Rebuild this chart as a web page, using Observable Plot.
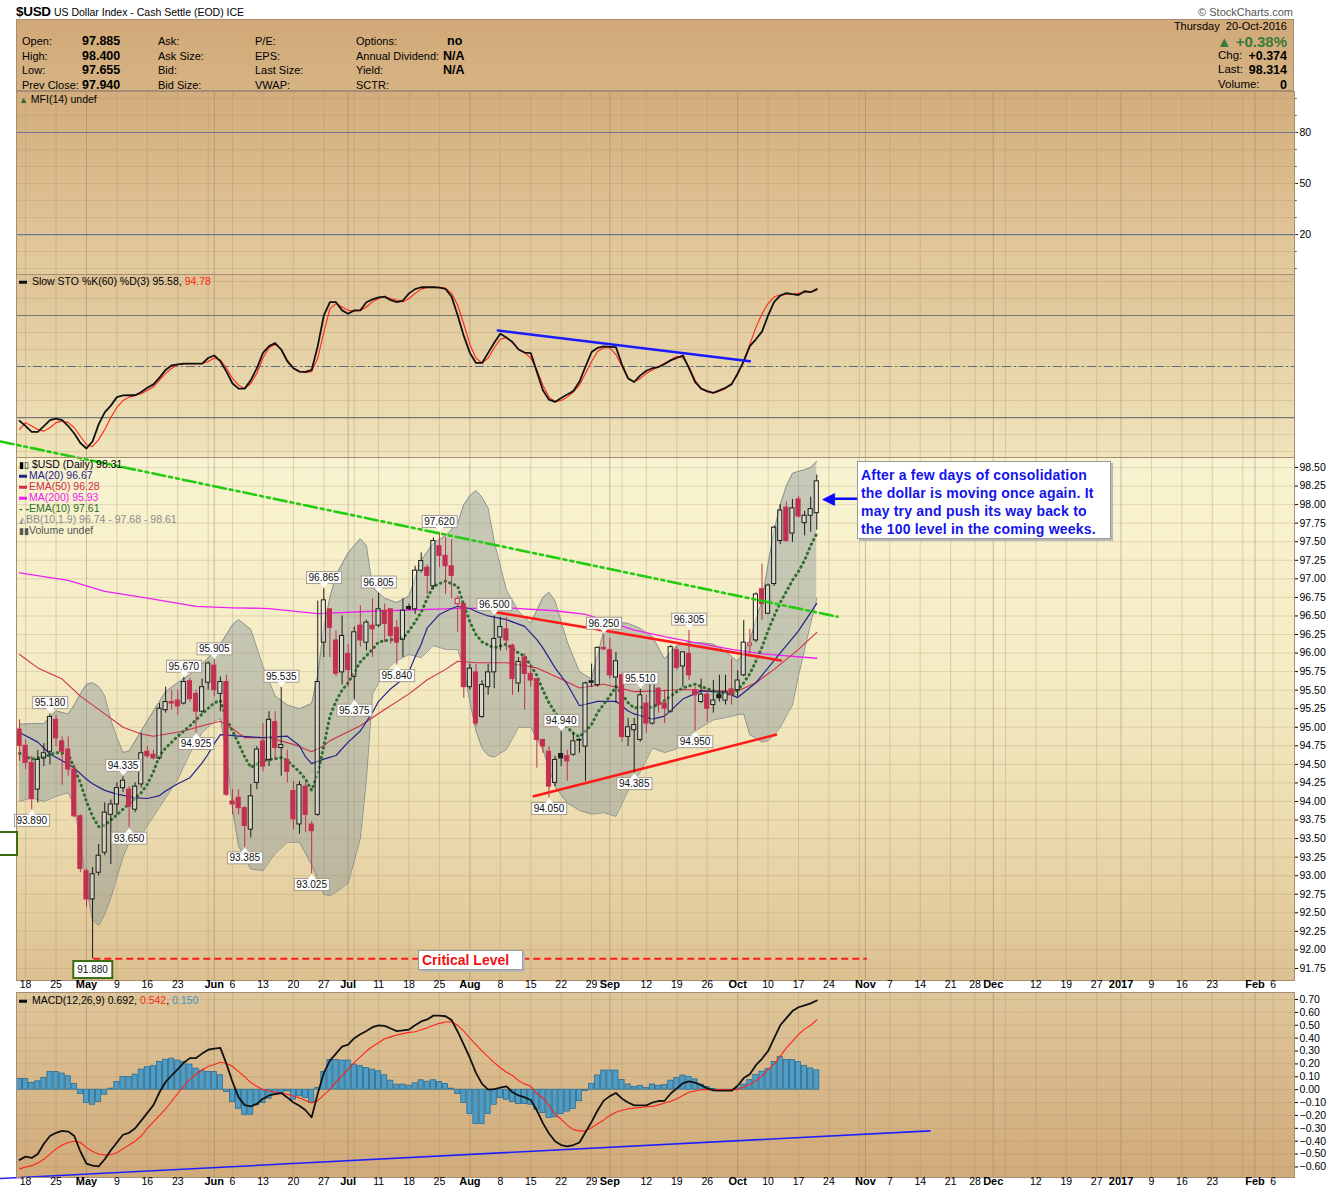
<!DOCTYPE html>
<html><head><meta charset="utf-8">
<script src="https://cdn.jsdelivr.net/npm/d3@7"></script>
<script src="https://cdn.jsdelivr.net/npm/@observablehq/plot@0.6"></script>
<style>
body{margin:0;background:#fff;font-family:"Liberation Sans",Arial,sans-serif;}
#root{position:relative;width:1340px;height:1192px;overflow:hidden;background:#fff;}
.t{position:absolute;white-space:nowrap;line-height:1;transform:translateY(-50%);color:#000;font-size:11px;}
.r{transform:translate(-100%,-50%);}
.bg{position:absolute;box-sizing:border-box;}
</style></head><body><div id="root"></div>
<script>
// ---------------- DATA (trading-day index 0 = 15-Apr-2016, 131 = 20-Oct-2016) ----------------
const open = [94.97,94.75,94.52,94.16,94.58,94.67,95.10,94.81,94.70,94.43, 93.80,93.06,92.68,93.04,93.31,93.82,93.96,94.18,94.16,93.89, 94.23,94.67,94.63,94.58,95.23,95.34,95.36,95.32,95.62,95.45, 95.21,95.60,95.83,95.45,95.61,94.00,94.05,93.91,93.62,94.25, 94.81,94.56,95.07,94.72,94.56,94.14,93.69,94.20,93.69,93.82, 96.14,96.59,96.17,95.74,95.99,95.68,96.37,96.14,96.37,96.37, 96.57,96.59,96.34,96.18,96.62,96.59,97.11,97.15,96.90,97.44, 97.31,97.17,96.66,96.66,95.54,95.74,95.14,95.54,95.74,96.21, 96.32,96.10,95.59,95.94,95.72,95.65,94.83,94.67,94.25,94.64, 94.61,94.63,94.83,94.74,95.62,95.57,96.07,96.04,95.67,95.70, 94.87,94.96,94.83,95.32,95.05,95.52,95.32,95.21,96.04,95.82, 95.99,95.50,95.34,95.44,95.30,95.44,95.36,95.51,95.50,95.70, 96.10,96.17,96.86,96.53,96.93,97.51,97.96,97.61,98.07,97.75, 97.85,97.885];
const high = [95.10,94.83,94.61,94.69,94.78,95.18,95.16,94.87,94.87,94.49, 93.82,93.09,93.11,93.42,93.98,94.02,94.25,94.335,94.20,94.25, 94.92,94.74,94.69,95.32,95.54,95.50,95.50,95.67,95.66,95.50, 95.65,95.88,95.905,95.68,95.70,94.16,94.16,93.93,94.23,94.74, 95.05,95.21,95.21,95.535,94.69,94.27,94.27,94.25,93.73,96.70, 96.865,96.59,96.30,96.50,96.12,96.35,96.64,96.44,96.73,96.805, 96.66,96.59,96.44,96.73,96.66,97.17,97.35,97.19,97.55,97.62, 97.55,97.53,96.77,96.66,95.85,95.85,95.63,95.85,96.50,96.48, 96.48,96.12,95.94,95.99,95.85,95.65,94.83,94.74,94.61,94.94, 94.69,94.92,94.85,95.61,95.85,96.08,96.25,96.20,96.01,95.72, 95.12,95.12,95.51,95.43,95.61,95.54,95.50,96.10,96.08,96.01, 96.305,95.54,95.65,95.50,95.63,95.70,95.70,95.92,95.76,96.44, 96.32,96.81,97.20,96.93,97.71,98.00,98.04,98.07,98.11,97.91, 98.10,98.40];
const low = [94.54,94.43,93.89,93.98,94.47,94.49,94.74,94.22,94.34,93.78, 93.04,92.57,91.88,93.00,93.27,93.15,93.82,94.12,93.65,93.85, 94.18,94.58,94.56,94.56,95.19,95.23,95.16,95.30,95.34,94.925, 95.19,95.50,95.41,95.21,94.07,93.82,93.82,93.385,93.51,94.16, 94.40,94.47,94.56,94.34,94.25,93.62,93.56,93.58,93.025,93.80, 95.94,95.94,95.68,95.57,95.54,95.375,96.08,96.03,95.94,96.34, 96.14,96.12,95.84,95.94,96.57,96.52,97.08,96.79,96.86,97.15, 96.79,96.73,96.28,95.39,95.50,95.01,95.12,95.43,95.52,96.03, 96.03,95.43,95.47,95.23,95.54,94.45,94.65,94.05,94.20,94.47, 94.27,94.61,94.65,94.27,95.54,95.54,96.03,95.65,95.32,94.80, 94.74,94.385,94.80,94.92,95.03,95.19,95.05,95.19,95.77,95.54, 95.63,94.95,95.32,95.07,95.19,95.34,95.30,95.30,95.41,95.68, 95.99,96.14,96.44,96.52,96.90,97.46,97.49,97.49,97.82,97.58, 97.63,97.655];
const close = [94.75,94.52,94.03,94.56,94.65,95.14,94.85,94.67,94.43,93.80, 93.09,92.68,93.02,93.27,93.85,93.96,94.18,94.28,93.93,94.20, 94.65,94.61,94.58,95.25,95.34,95.32,95.28,95.61,95.38,95.21, 95.54,95.86,95.50,95.61,94.09,93.96,93.91,93.67,94.07,94.70, 94.47,95.10,94.72,94.76,94.40,93.76,94.22,93.82,93.60,95.61, 96.71,96.34,95.72,96.23,95.77,96.28,96.17,96.41,96.32,96.59, 96.39,96.23,96.14,96.57,96.59,97.11,97.24,97.04,97.51,97.31, 97.17,97.04,96.73,95.54,95.79,95.05,95.57,95.74,96.19,96.35, 96.17,95.65,95.88,95.72,95.63,94.83,94.74,94.20,94.56,94.58, 94.54,94.81,94.82,95.59,95.60,96.07,96.05,95.70,95.89,94.87, 95.00,95.03,95.43,95.05,95.59,95.30,95.25,96.08,95.80,96.01, 95.70,95.43,95.44,95.25,95.36,95.39,95.47,95.44,95.63,96.14, 96.13,96.79,96.66,96.91,97.69,97.92,97.51,97.95,97.84,97.85, 97.94,98.314];
const closeBeforeStart = 95.05;

// Bollinger Bands (10,1.9), read at sampled days
const bbDay = [0,2,4,6,8,9,10,11,12,13,14,15,16,17,18,20,22,24,26,28,30,32,33,34,35,36,38,40,42,44,46,48,49,50,51,52,54,56,57,58,60,62,64,66,68,70,72,73,74,75,76,77,78,80,82,84,86,87,88,90,92,94,96,98,100,102,104,106,108,110,112,114,116,118,119,120,121,122,123,124,125,126,127,128,129,130,131];
const bbUpper = [95.04,95.05,95.05,95.22,95.18,95.30,95.45,95.58,95.60,95.55,95.42,95.10,94.86,94.66,94.68,94.95,95.22,95.48,95.60,95.71,95.85,96.02,96.12,96.25,96.38,96.45,96.32,95.82,95.42,95.30,95.25,95.32,95.70,96.35,96.75,97.05,97.35,97.54,97.45,96.88,96.74,96.68,96.77,97.25,97.48,97.58,97.75,98.00,98.12,98.19,98.10,97.95,97.50,96.85,96.56,96.40,96.75,96.82,96.70,96.15,95.75,95.65,96.30,96.42,96.40,96.33,96.22,95.92,96.10,96.14,96.14,96.12,96.02,95.89,96.00,96.16,96.45,96.70,97.20,97.65,98.00,98.25,98.42,98.45,98.47,98.50,98.58];
const bbLower = [94.00,94.05,94.00,94.07,94.12,93.95,93.45,92.85,92.40,92.33,92.48,92.70,92.98,93.25,93.45,93.55,93.80,94.05,94.30,94.65,94.93,95.08,95.12,94.65,93.90,93.40,93.09,93.07,93.30,93.45,93.45,93.15,92.95,92.75,92.73,92.78,92.90,93.50,94.30,95.45,95.76,95.90,95.98,95.94,96.10,96.05,96.05,95.80,95.35,94.95,94.72,94.62,94.60,94.70,95.00,95.00,94.70,94.45,94.20,93.98,93.88,93.83,93.85,93.80,94.15,94.40,94.72,94.66,94.71,94.90,95.00,95.10,95.13,95.17,95.18,94.90,94.85,94.80,94.82,94.90,95.00,95.15,95.30,95.70,96.05,96.40,96.74];

// Moving averages, read at sampled days
const ma20Day = [0,3,5,7,9,11,12,14,16,19,21,23,24,26,28,30,31,32,33,36,38,40,42,44,46,47,48,50,52,54,56,58,59,61,63,64,65,66,67,68,69,71,72,74,75,77,80,83,85,86,88,90,92,95,98,100,101,104,106,109,112,116,118,121,124,126,128,131];
const ma20 = [94.93,94.80,94.64,94.55,94.45,94.30,94.24,94.15,94.10,94.05,94.04,94.08,94.14,94.24,94.32,94.52,94.64,94.78,94.90,94.88,94.87,94.86,94.87,94.88,94.75,94.60,94.51,94.57,94.62,94.80,94.95,95.20,95.35,95.52,95.65,95.75,95.95,96.12,96.34,96.43,96.52,96.60,96.63,96.60,96.56,96.50,96.45,96.36,96.18,96.07,95.80,95.58,95.29,95.35,95.35,95.22,95.18,95.11,95.15,95.38,95.49,95.47,95.40,95.60,95.90,96.10,96.30,96.67];
const ema50Day = [0,3,7,10,14,17,20,22,25,27,30,33,35,37,41,45,48,50,51,56,60,64,67,70,72,75,80,85,89,92,96,101,105,109,114,118,121,124,128,131];
const ema50 = [95.98,95.80,95.65,95.42,95.18,95.00,94.91,94.88,94.92,94.95,95.02,95.08,94.98,94.86,94.86,94.77,94.67,94.75,94.82,95.02,95.24,95.45,95.64,95.78,95.89,95.87,95.87,95.80,95.65,95.53,95.58,95.48,95.49,95.51,95.49,95.49,95.60,95.78,96.05,96.28];
const ma200Day = [0,8,14,21,29,35,41,49,57,64,71,80,88,93,97,101,106,111,117,122,131];
const ma200 = [97.08,96.98,96.83,96.74,96.63,96.61,96.60,96.53,96.56,96.58,96.60,96.61,96.57,96.52,96.42,96.31,96.22,96.14,96.05,95.99,95.93];
const ema10Day = [0,2,4,6,8,9,10,11,12,13,14,15,16,18,20,21,22,23,24,26,28,30,32,33,34,35,36,37,38,40,43,44,46,47,48,49,50,51,52,53,54,56,58,59,61,63,64,65,66,67,68,70,72,73,74,75,76,78,80,82,83,85,86,87,88,90,91,92,93,94,95,97,98,99,100,101,102,104,106,108,109,111,112,114,117,118,119,120,121,122,123,124,125,126,127,128,129,130,131];
const ema10 = [94.65,94.57,94.60,94.66,94.64,94.45,94.25,94.00,93.80,93.66,93.68,93.75,93.82,93.97,94.12,94.23,94.40,94.62,94.72,94.88,95.02,95.18,95.33,95.36,95.12,94.95,94.78,94.60,94.46,94.55,94.59,94.55,94.40,94.30,94.15,94.38,94.75,95.15,95.35,95.50,95.60,95.88,96.05,96.15,96.18,96.20,96.30,96.42,96.55,96.74,96.90,96.97,96.90,96.65,96.42,96.25,96.15,96.07,96.12,96.00,95.96,95.70,95.50,95.33,95.20,95.00,94.92,94.87,94.95,95.04,95.20,95.42,95.55,95.45,95.33,95.26,95.27,95.27,95.36,95.48,95.53,95.58,95.55,95.49,95.44,95.50,95.60,95.72,95.89,96.08,96.30,96.50,96.68,96.83,96.98,97.10,97.25,97.45,97.61];

// Slow stochastic %K(60) %D(3)
const stoK = [18,15,11.6,11.6,15,18.5,19.4,18.5,15,10.6, 5,1.8,6,16,23,27,32,33,33.1,33.1, 35,37.5,39.5,43.5,48,50.7,51.2,51.7,51.7,51.7, 51.7,55,56.5,53,47,40,37,37,42,49, 58,62,63.8,60,53,49,47,46.8,48,62, 80,87.8,87.8,83,81,83,83,87.8,89.5,90.7, 91.1,89,87.8,88.8,93,95.5,96.6,96.6,96.6,96.4, 95.6,91,80,68,58,52.1,52.1,58,64,69.3, 67,64.4,60,58.2,57.9,47,36,30.5,29.2,31.5, 33.5,35.6,41,50,58.5,61,61.8,61.6,61.4,51, 43,40.9,44.8,47.5,49,49.7,51.5,53.6,55,56.5, 49,41,37,35.5,34.5,36,37.5,39.5,46,53, 62,66,70.5,80,88,91.7,93.1,92.5,92,94.3, 93.7,95.58];
const stoD = [13,17,15,13,12,14,17,18,17,14, 9,4,3,7,13,20,26,30,32,33, 34,36,38,42,46,49,51,51.5,51.7,51.7, 51.7,53,55,54,49,43,39,37,40,46, 55,61,63,60,54,49,47,46.5,47,55, 70,84,87,85,83,82.5,83,85,88,90, 91,90,89,88,90,93,95.5,96.6,96.6,96.6, 96,93,86,75,63,55,52,55,61,66, 67,64,60,58,55,48,39,32,29.5,30, 32,35,39,46,53,59,61,61,57,50, 43,41,43,46,48,50,52,54,56,55, 50,42,37,35,34.5,35.5,37,40,45,54, 63,73,81,87,91,92,92.5,92.5,93,93.5, 94,94.78];

// MACD(12,26,9)
const macd = [-0.545,-0.52,-0.53,-0.50,-0.42,-0.36,-0.335,-0.32,-0.325,-0.36, -0.48,-0.575,-0.59,-0.595,-0.54,-0.47,-0.41,-0.35,-0.335,-0.30, -0.24,-0.18,-0.12,-0.02,0.06,0.11,0.16,0.21,0.245,0.246, 0.28,0.31,0.318,0.324,0.20,0.06,-0.06,-0.12,-0.13,-0.11, -0.07,-0.045,-0.035,-0.026,-0.06,-0.10,-0.125,-0.16,-0.215,-0.03, 0.13,0.225,0.28,0.335,0.35,0.40,0.43,0.455,0.485,0.50, 0.495,0.475,0.455,0.46,0.467,0.50,0.53,0.545,0.575,0.575, 0.57,0.54,0.45,0.35,0.246,0.13,0.045,0.0,0.005,0.015, 0.026,-0.02,-0.045,-0.06,-0.08,-0.16,-0.26,-0.34,-0.40,-0.43, -0.441,-0.43,-0.41,-0.33,-0.25,-0.16,-0.085,-0.05,-0.026,-0.07, -0.10,-0.122,-0.122,-0.122,-0.10,-0.088,-0.086,-0.03,0.01,0.05, 0.065,0.055,0.035,0.01,-0.005,-0.008,-0.008,-0.008,0.03,0.09, 0.12,0.19,0.24,0.30,0.40,0.50,0.555,0.61,0.64,0.655, 0.67,0.692];
const signal = [-0.615,-0.60,-0.59,-0.57,-0.54,-0.50,-0.46,-0.43,-0.41,-0.40, -0.41,-0.45,-0.48,-0.50,-0.506,-0.505,-0.49,-0.46,-0.43,-0.40, -0.36,-0.30,-0.25,-0.20,-0.15,-0.09,-0.03,0.03,0.08,0.12, 0.155,0.18,0.195,0.213,0.205,0.18,0.14,0.10,0.055,0.026, 0.0,-0.01,-0.02,-0.026,-0.035,-0.05,-0.065,-0.085,-0.104,-0.085, -0.04,0.0,0.06,0.11,0.16,0.21,0.255,0.30,0.335,0.365, 0.395,0.41,0.425,0.435,0.445,0.45,0.465,0.48,0.50,0.515, 0.525,0.527,0.50,0.455,0.40,0.35,0.30,0.255,0.21,0.17, 0.135,0.11,0.07,0.045,0.026,-0.03,-0.065,-0.12,-0.19,-0.23, -0.275,-0.31,-0.32,-0.32,-0.295,-0.265,-0.235,-0.20,-0.175,-0.16, -0.148,-0.143,-0.138,-0.133,-0.13,-0.118,-0.104,-0.09,-0.07,-0.045, -0.02,-0.01,0.0,0.0,0.0,0.0,0.0,0.0,0.0,0.02, 0.04,0.07,0.105,0.155,0.20,0.26,0.325,0.375,0.43,0.47, 0.50,0.542];
const hist = [0.083,0.083,0.052,0.065,0.091,0.137,0.137,0.125,0.104,0.044, -0.034,-0.104,-0.117,-0.096,-0.039,0.008,0.060,0.099,0.099,0.117, 0.156,0.174,0.182,0.215,0.233,0.241,0.226,0.215,0.195,0.163, 0.148,0.137,0.137,0.112,-0.018,-0.096,-0.148,-0.195,-0.195,-0.122, -0.104,-0.070,-0.039,-0.026,-0.013,-0.078,-0.052,-0.065,-0.104,0.013, 0.137,0.231,0.231,0.226,0.226,0.195,0.182,0.169,0.156,0.143, 0.112,0.070,0.039,0.039,0.031,0.049,0.073,0.062,0.073,0.060, 0.044,0.008,-0.034,-0.104,-0.189,-0.267,-0.267,-0.189,-0.117,-0.065, -0.078,-0.096,-0.112,-0.112,-0.117,-0.156,-0.182,-0.220,-0.215,-0.19, -0.17,-0.15,-0.09,-0.01,0.045,0.11,0.148,0.148,0.148,0.075, 0.04,0.02,0.03,0.013,0.04,0.03,0.035,0.07,0.09,0.11, 0.10,0.08,0.04,0.02,0.005,-0.005,-0.008,-0.005,0.01,0.04, 0.075,0.115,0.14,0.16,0.215,0.255,0.23,0.23,0.215,0.185, 0.165,0.15];

// Swing high / low labels
const labelDay = [5,2,12,17,18,27,29,32,37,43,48,50,55,59,62,69,78,87,89,96,101,102,110,111];
const labelValue = [95.180,93.890,91.880,94.335,93.650,95.670,94.925,95.905,93.385,95.535,93.025,96.865,95.375,96.805,95.840,97.620,96.500,94.050,94.940,96.250,94.385,95.510,96.305,94.950];
const labelKind = ["H","L","L","H","L","H","L","H","L","H","L","H","L","H","L","H","H","L","H","H","L","H","H","L"];

// Annotations (day index, value)
const greenTrend = [[-3.1, 98.85], [134.4, 96.49]];
const redUpperTrend = [[78.3, 96.55], [125.1, 95.90]];
const redLowerTrend = [[84.5, 94.07], [124.3, 94.90]];
const criticalLevel = 91.88;
const criticalSpan = [12.2, 139.3];
const stoTrend = [[78.6, 71.2], [120.0, 53.1]];
const macdTrend = [[-3.1, -0.69], [149.6, -0.32]];
const arrowSpan = [[137.6, 98.08], [133.4, 98.08]];

// Axis ticks
const tickDay = [1,6,11,16,21,26,32,35,40,45,50,54,59,64,69,74,79,84,89,94,97,103,108,113,118,123,128,133,139,143,148,153,157,160,167,172,177,181,186,191,196,203,206];
const tickText = ["18","25","May","9","16","23","Jun","6","13","20","27","Jul","11","18","25","Aug","8","15","22","29","Sep","12","19","26","Oct","10","17","24","Nov","7","14","21","28","Dec","12","19","27","2017","9","16","23","Feb","6"];
const weekDay = [1,6,16,21,26,31,35,40,45,50,55,59,64,69,79,84,89,94,99,103,108,113,123,128,133,138,143,148,153,157,162,167,172,177,186,191,196,201,206];
const monthDay = [11,32,54,74,97,118,139,160,181,203];
const priceTicks = d3.range(0, 28).map(k => 91.75 + k * 0.25);
const macdTicks = d3.range(-6, 8).map(k => k / 10);

// ---------------- RENDERING ----------------
const root = document.getElementById("root");
const W = 1340, ML = 16, MR = 46, XD = [-0.5, 209.5];
const RED = "#c3304f", BLK = "#1c1c1c";
const FONT = "Liberation Sans, Arial, sans-serif";

function bgDiv(top, h, grad) {
  const d = document.createElement("div");
  d.className = "bg";
  Object.assign(d.style, {left: ML + "px", top: top + "px", width: (W - ML - MR) + "px", height: h + "px", background: grad});
  root.appendChild(d);
}
function txt(x, y, html, css, right) {
  const d = document.createElement("div");
  d.className = "t" + (right ? " r" : "");
  d.style.left = x + "px"; d.style.top = y + "px";
  d.innerHTML = html;
  Object.assign(d.style, css || {});
  root.appendChild(d);
  return d;
}
function gridMarks(hVals) {
  const m = [
    Plot.ruleX(weekDay, {stroke: "#a88d66", strokeOpacity: 0.32}),
    Plot.ruleX(monthDay, {stroke: "#8c755c", strokeOpacity: 0.42})
  ];
  if (hVals) m.push(Plot.ruleY(hVals, {stroke: "#a88d66", strokeOpacity: 0.26}));
  return m;
}
function dateLabels() {
  const td = tickDay.map((d, k) => ({d, t: tickText[k], m: isNaN(+tickText[k]) || tickText[k] === "2017"}));
  return [
    Plot.text(td.filter(o => !o.m), {x: "d", text: "t", frameAnchor: "bottom", dy: 7, fontSize: 10.5, fill: "#000", fontFamily: FONT}),
    Plot.text(td.filter(o => o.m), {x: "d", text: "t", frameAnchor: "bottom", dy: 7, fontSize: 11, fontWeight: "bold", fill: "#000", fontFamily: FONT})
  ];
}
function panel(top, h, mb, yopt, marks) {
  const svg = Plot.plot({
    width: W, height: h + mb, marginLeft: ML, marginRight: MR, marginTop: 0, marginBottom: mb,
    x: {domain: XD, axis: null},
    y: yopt,
    style: {background: "transparent", fontFamily: FONT, fontSize: "10.5px", color: "#000"},
    marks
  });
  svg.style.position = "absolute"; svg.style.left = "0px"; svg.style.top = top + "px";
  svg.style.overflow = "visible"; svg.style.maxWidth = "none";
  root.appendChild(svg);
  return svg;
}

// Backgrounds
const hdr = document.createElement("div");
hdr.className = "bg";
Object.assign(hdr.style, {left: "16px", top: "19px", width: "1278px", height: "72px", background: "linear-gradient(#d2a978,#d6b383)", border: "1px solid #a58d76"});
root.appendChild(hdr);
bgDiv(91, 183, "linear-gradient(#d3ad7c,#e3cb9e)");
bgDiv(274, 183, "linear-gradient(#dec396,#f0e4bb)");
bgDiv(457, 523, "linear-gradient(#f8f3d0 0%,#f4ecc4 40%,#ecdcaf 70%,#dcc090 100%)");
bgDiv(992, 185, "linear-gradient(#dec69a,#d1aa7a)");

const minorTicks = (vals) => Plot.ruleY(vals, {x1: XD[1], x2: XD[1] + 0.45, stroke: "#555"});

// MFI panel (empty: MFI(14) undef)
panel(91, 183, 0, {domain: [-3.5, 104.1], axis: "right", ticks: [20, 50, 80], tickFormat: d3.format("d"), tickSize: 3, tickPadding: 2, label: null}, [
  ...gridMarks(d3.range(0, 101, 10)),
  Plot.ruleY([20, 80], {stroke: "#6b7894", strokeWidth: 1.2}),
  minorTicks(d3.range(0, 101, 10)),
  Plot.frame({stroke: "#a58d76"})
]);

// STO panel
const stoData = stoK.map((k, i) => ({i, k, d: stoD[i]}));
panel(274, 183, 0, {domain: [-3.5, 104.1], axis: null}, [
  ...gridMarks(d3.range(0, 101, 10)),
  Plot.ruleY([20, 80], {stroke: "#777", strokeWidth: 1.2}),
  Plot.ruleY([50], {stroke: "#5a6c86", strokeWidth: 1.2, strokeDasharray: "9,3,2,3"}),
  Plot.line(stoData, {x: "i", y: "d", stroke: "#ff2418", strokeWidth: 1.1}),
  Plot.line(stoData, {x: "i", y: "k", stroke: "#111", strokeWidth: 1.8}),
  Plot.line(stoTrend, {x: d => d[0], y: d => d[1], stroke: "#1a1aff", strokeWidth: 2.6}),
  Plot.frame({stroke: "#a58d76"})
]);

// Price panel
const candles = close.map((c, i) => {
  const o = open[i], prev = i ? close[i - 1] : closeBeforeStart;
  const red = c < prev, filled = c < o;
  const col = red ? RED : BLK;
  return {i, o, h: high[i], l: low[i], c, top: Math.max(o, c), bot: Math.min(o, c), col, fill: filled ? col : "rgba(255,255,255,0.35)"};
});
const bb = bbDay.map((d, k) => ({d, up: bbUpper[k], lo: bbLower[k]}));
const lab = labelDay.map((d, k) => ({d, v: labelValue[k], k: labelKind[k], t: labelValue[k].toFixed(3)}));
const xy = {x: d => d[0], y: d => d[1]};
const pair = (days, vals) => days.map((d, k) => [d, vals[k]]);

const priceSvg = panel(457, 523, 14, {domain: [91.588, 98.635], axis: "right", ticks: priceTicks, tickFormat: d3.format(".2f"), tickSize: 3, tickPadding: 2, label: null}, [
  ...gridMarks(priceTicks),
  Plot.areaY(bb, {x: "d", y1: "lo", y2: "up", fill: "#7d8c93", fillOpacity: 0.4}),
  Plot.line(bb, {x: "d", y: "up", stroke: "#8b9290", strokeWidth: 1}),
  Plot.line(bb, {x: "d", y: "lo", stroke: "#8b9290", strokeWidth: 1}),
  Plot.line(pair(ma200Day, ma200), {...xy, stroke: "#f020f0", strokeWidth: 1.3}),
  Plot.line(pair(ema50Day, ema50), {...xy, stroke: "#d0304a", strokeWidth: 1.1}),
  Plot.line(pair(ma20Day, ma20), {...xy, stroke: "#23238c", strokeWidth: 1.2}),
  Plot.line(pair(ema10Day, ema10), {...xy, stroke: "#2f6e2f", strokeWidth: 3, strokeDasharray: "0.5,4.5", strokeLinecap: "round"}),
  Plot.line(redUpperTrend, {...xy, stroke: "#ff1a1a", strokeWidth: 2.6}),
  Plot.line(redLowerTrend, {...xy, stroke: "#ff1a1a", strokeWidth: 2.6}),
  Plot.ruleY([criticalLevel], {x1: criticalSpan[0], x2: criticalSpan[1], stroke: "#ff1a1a", strokeWidth: 2, strokeDasharray: "7,4"}),
  Plot.ruleX(candles, {x: "i", y1: "h", y2: "top", stroke: "col", strokeWidth: 1}),
  Plot.ruleX(candles, {x: "i", y1: "bot", y2: "l", stroke: "col", strokeWidth: 1}),
  Plot.rect(candles, {x1: d => d.i - 0.34, x2: d => d.i + 0.34, y1: "bot", y2: "top", fill: "fill", stroke: "col", strokeWidth: 1}),
  Plot.line(greenTrend, {...xy, stroke: "#22cc10", strokeWidth: 2.6, strokeDasharray: "13,4,3,4,3,4"}),
  Plot.line(arrowSpan, {...xy, stroke: "#0a0aff", strokeWidth: 2.6}),
  Plot.text([arrowSpan[1]], {...xy, text: () => "◀", fill: "#0a0aff", fontSize: 17, dx: -3, fontFamily: "DejaVu Sans"}),
  Plot.text(lab, {x: "d", y: "v", text: "t", fontSize: 10, fill: "#111", fontFamily: FONT, ariaLabel: "k", ariaDescription: "plabels"}),
  Plot.frame({stroke: "#a58d76"}),
  ...dateLabels()
]);

// MACD panel
const macdData = macd.map((m, i) => ({i, m, s: signal[i], h: hist[i]}));
panel(992, 185, 15, {domain: [-0.682, 0.7545], axis: "right", ticks: macdTicks, tickFormat: d3.format(".2f"), tickSize: 3, tickPadding: 2, label: null}, [
  ...gridMarks(macdTicks),
  Plot.rect(macdData, {x1: d => d.i - 0.42, x2: d => d.i + 0.42, y1: 0, y2: "h", fill: "#4d9dc6", stroke: "#2b6c92", strokeWidth: 0.8}),
  Plot.line(macdData, {x: "i", y: "s", stroke: "#ff2418", strokeWidth: 1.1}),
  Plot.line(macdData, {x: "i", y: "m", stroke: "#111", strokeWidth: 1.8}),
  Plot.line(macdTrend, {...xy, stroke: "#2020ff", strokeWidth: 1.6}),
  Plot.frame({stroke: "#a58d76"}),
  ...dateLabels()
]);

// Boxed swing labels
(function boxLabels(svg) {
  const ns = "http://www.w3.org/2000/svg";
  svg.querySelectorAll('g[aria-description="plabels"] text').forEach(t => {
    const kind = t.getAttribute("aria-label");
    const isGreen = t.textContent === "91.880";
    const dy = kind === "H" ? -11 : 11;
    const tr0 = t.getAttribute("transform") || "";
    t.setAttribute("transform", tr0 + ` translate(0,${dy})`);
    const b = t.getBBox();
    const px = isGreen ? 4 : 2, py = isGreen ? 3 : 0.5;
    const g = t.parentNode;
    const tr = t.getAttribute("transform");
    const r = document.createElementNS(ns, "rect");
    r.setAttribute("x", b.x - px); r.setAttribute("y", b.y - py);
    r.setAttribute("width", b.width + 2 * px); r.setAttribute("height", b.height + 2 * py);
    r.setAttribute("fill", "white");
    r.setAttribute("stroke", isGreen ? "#3c6c12" : "#a99c8c");
    r.setAttribute("stroke-width", isGreen ? 2 : 1);
    r.setAttribute("transform", tr);
    const p = document.createElementNS(ns, "path");
    const cx = b.x + b.width / 2;
    let d;
    if (kind === "H") { const yb = b.y + b.height + py; d = `M${cx - 4},${yb - 0.5}L${cx},${yb + 4}L${cx + 4},${yb - 0.5}Z`; }
    else { const yt = b.y - py; d = `M${cx - 4},${yt + 0.5}L${cx},${yt - 4}L${cx + 4},${yt + 0.5}Z`; }
    p.setAttribute("d", d); p.setAttribute("fill", "white"); p.setAttribute("transform", tr);
    g.insertBefore(r, t);
    if (!isGreen) g.insertBefore(p, t);
  });
})(priceSvg);

// ---------------- TEXT / HTML OVERLAYS ----------------
txt(16, 12, '<b style="font-size:13.5px;letter-spacing:-0.3px">$USD</b> <span style="font-size:10.5px">US Dollar Index - Cash Settle (EOD) ICE</span>');
txt(1293, 12, "© StockCharts.com", {fontSize: "11px", color: "#555"}, true);
const hdrRows = [41, 55.5, 70, 84.5];
[["Open:", "97.885"], ["High:", "98.400"], ["Low:", "97.655"], ["Prev Close:", "97.940"]].forEach((r, k) => {
  txt(22, hdrRows[k], r[0], {fontSize: "11px"});
  txt(82, hdrRows[k], r[1], {fontSize: "12.5px", fontWeight: "bold"});
});
["Ask:", "Ask Size:", "Bid:", "Bid Size:"].forEach((s, k) => txt(158, hdrRows[k], s, {fontSize: "11px"}));
["P/E:", "EPS:", "Last Size:", "VWAP:"].forEach((s, k) => txt(255, hdrRows[k], s, {fontSize: "11px"}));
["Options:", "Annual Dividend:", "Yield:", "SCTR:"].forEach((s, k) => txt(356, hdrRows[k], s, {fontSize: "11px"}));
txt(447, hdrRows[0], "no", {fontSize: "12.5px", fontWeight: "bold"});
txt(443, hdrRows[1], "N/A", {fontSize: "12.5px", fontWeight: "bold"});
txt(443, hdrRows[2], "N/A", {fontSize: "12.5px", fontWeight: "bold"});
txt(1287, 26, "Thursday &nbsp;20-Oct-2016", {fontSize: "11px"}, true);
txt(1287, 41, "▲ +0.38%", {fontSize: "15px", fontWeight: "bold", color: "#3a7a3a"}, true);
txt(1218, 55.5, "Chg:", {fontSize: "11.5px"});
txt(1287, 55.5, "+0.374", {fontSize: "12.5px", fontWeight: "bold"}, true);
txt(1218, 70, "Last:", {fontSize: "11.5px"});
txt(1287, 70, "98.314", {fontSize: "12.5px", fontWeight: "bold"}, true);
txt(1218, 84.5, "Volume:", {fontSize: "11.5px"});
txt(1287, 84.5, "0", {fontSize: "12.5px", fontWeight: "bold"}, true);

// panel legends
const dash = c => `<span style="display:inline-block;width:8px;height:3px;background:${c};vertical-align:middle;margin-right:2px"></span>`;
txt(19, 99, '<span style="color:#2f6a2f;font-size:9px">▲</span> MFI(14) undef', {fontSize: "10.5px"});
txt(19, 281, dash("#111") + " Slow STO %K(60) %D(3) 95.58, <span style='color:#ff2418'>94.78</span>", {fontSize: "10.5px"});
const lg = {fontSize: "10.5px"};
txt(19, 464, '<span style="font-size:9px">▮▯</span> $USD (Daily) 98.31', lg);
txt(19, 475, dash("#23238c") + '<span style="color:#23238c">MA(20) 96.67</span>', lg);
txt(19, 486, dash("#d0304a") + '<span style="color:#d0304a">EMA(50) 96.28</span>', lg);
txt(19, 497, dash("#f020f0") + '<span style="color:#f020f0">MA(200) 95.93</span>', lg);
txt(19, 508, '<span style="color:#2f6e2f;font-weight:bold">- -</span><span style="color:#2f6e2f">EMA(10) 97.61</span>', lg);
txt(19, 519, '<span style="color:#999;font-size:9px">◭</span><span style="color:#8a8a8a">BB(10,1.9) 96.74 - 97.68 - 98.61</span>', lg);
txt(19, 530, '<span style="color:#555;font-size:9px">▮▮</span><span style="color:#555">Volume undef</span>', lg);
txt(19, 1000, dash("#111") + " MACD(12,26,9) 0.692, <span style='color:#ff2418'>0.542</span>, <span style='color:#3b95c4'>0.150</span>", {fontSize: "10.5px"});

// callout box
const cb = document.createElement("div");
Object.assign(cb.style, {position: "absolute", left: "857px", top: "461px", width: "254px", height: "78px", background: "#fff", border: "1px solid #9a9a9a", boxShadow: "2px 2px 0 #b8b8b8", boxSizing: "border-box", padding: "4px 0 0 3px", color: "#1414ea", fontWeight: "bold", fontSize: "14px", lineHeight: "18px", letterSpacing: "0.2px", whiteSpace: "nowrap", fontFamily: FONT});
cb.innerHTML = "After a few days of consolidation<br>the dollar is moving once again. It<br>may try and push its way back to<br>the 100 level in the coming weeks.";
root.appendChild(cb);

// Critical level label
const cl = document.createElement("div");
Object.assign(cl.style, {position: "absolute", left: "418px", top: "950px", width: "105px", height: "20px", background: "#fff", border: "1px solid #9a9a9a", boxShadow: "2px 2px 0 #b8b8b8", boxSizing: "border-box", padding: "1px 0 0 3px", color: "#ee1111", fontWeight: "bold", fontSize: "14px", lineHeight: "16px", whiteSpace: "nowrap", fontFamily: FONT});
cl.textContent = "Critical Level";
root.appendChild(cl);

// green marker box at left edge
const gb = document.createElement("div");
Object.assign(gb.style, {position: "absolute", left: "-4px", top: "831px", width: "22px", height: "25px", border: "2px solid #3c6c12", boxSizing: "border-box"});
root.appendChild(gb);
</script></body></html>
